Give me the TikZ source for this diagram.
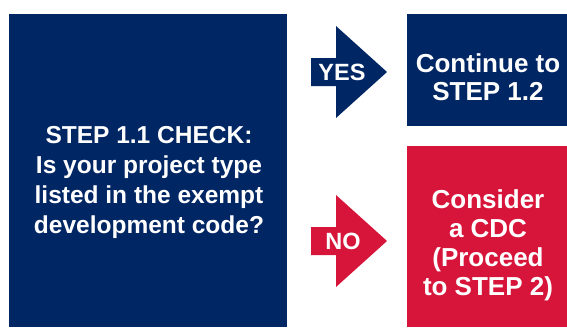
\documentclass[tikz,border=0pt]{standalone}
\usepackage{fontspec}
\setmainfont{Liberation Sans}
\definecolor{nswblue}{HTML}{002664}
\definecolor{nswred}{HTML}{D7153A}
\begin{document}
\begin{tikzpicture}[x=1pt,y=-1pt,
  panel/.style={fill=#1, draw=none, inner sep=0pt, outer sep=0pt, anchor=north west},
  paneltext/.style={text=white, font=\bfseries\fontsize{24.5}{#1}\selectfont, align=center, inner sep=0pt},
  sidetext/.style={text=white, font=\bfseries\fontsize{26}{#1}\selectfont, align=center, inner sep=0pt},
  arrowlabel/.style={text=white, font=\bfseries\fontsize{23.5}{27}\selectfont, inner sep=0pt},
  blockarrow/.style={fill=#1, draw=none}]
\useasboundingbox (0,0) rectangle (567,327);
% panels
\node[panel=nswblue, minimum width=278pt, minimum height=313pt] (check) at (9,14) {};
\node[panel=nswblue, minimum width=160pt, minimum height=112pt] (yesbox) at (407,14) {};
\node[panel=nswred, minimum width=160pt, minimum height=181pt] (nobox) at (407,146) {};
% panel texts
\node[paneltext=30] (checktext) at (149,182) {STEP 1.1 CHECK:\\Is your project type\\listed in the exempt\\development code?};
\node[sidetext=28.5] (yestext) at (488,77) {Continue to\\STEP 1.2};
\node[sidetext=29] (notext) at (488,245) {Consider\\a CDC\\(Proceed\\to STEP 2)};
% block arrows
\fill[blockarrow=nswblue] (311,58) -- (336,58) -- (336,26) -- (387,72) -- (336,118) -- (336,86) -- (311,86) -- cycle;
\fill[blockarrow=nswred] (311,227) -- (336,227) -- (336,195) -- (387,241) -- (336,287) -- (336,255) -- (311,255) -- cycle;
\node[arrowlabel] (yeslabel) at (342,72) {YES};
\node[arrowlabel] (nolabel) at (343,241) {NO};
\end{tikzpicture}
\end{document}
